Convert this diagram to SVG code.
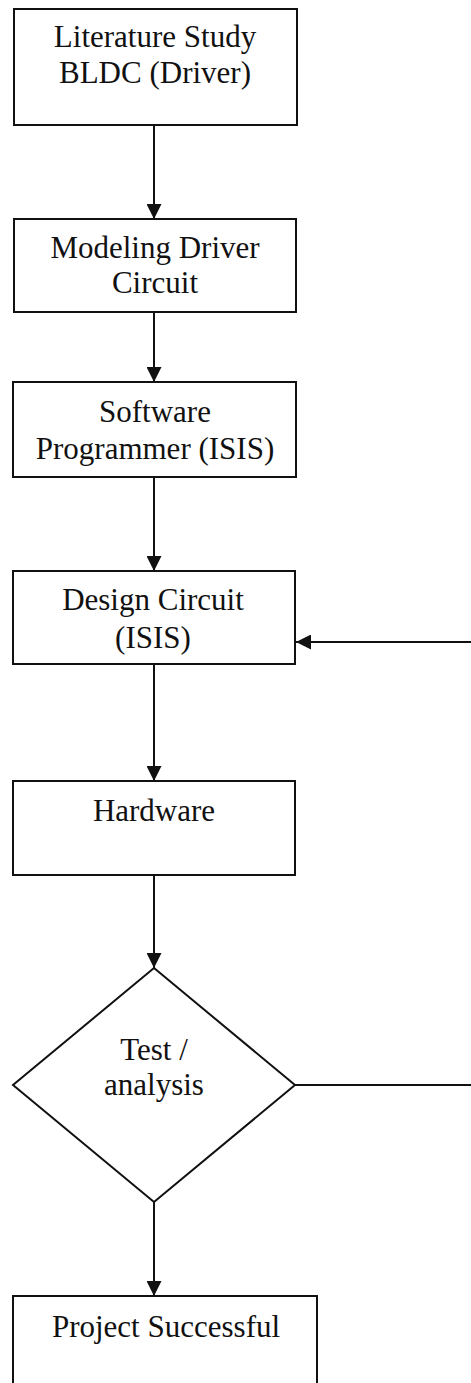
<svg xmlns="http://www.w3.org/2000/svg" width="471" height="1383" viewBox="0 0 471 1383">
  <style>
    .box { fill: #ffffff; stroke: #111111; stroke-width: 2; }
    .lbl { font-family: "Liberation Serif", "Times New Roman", serif; font-size: 31px; fill: #111111; text-anchor: middle; }
    .wire { fill: none; stroke: #111111; stroke-width: 2; }
  </style>
  <defs>
    <marker id="arrow" viewBox="0 0 15 15" refX="15" refY="7.5" markerWidth="15" markerHeight="15" markerUnits="userSpaceOnUse" orient="auto">
      <path d="M0,0 L15,7.5 L0,15 Z" fill="#111111"/>
    </marker>
  </defs>
  <rect width="471" height="1383" fill="#ffffff"/>

  <g id="connectors">
    <line class="wire" x1="154" y1="125" x2="154" y2="219" marker-end="url(#arrow)"/>
    <line class="wire" x1="154" y1="312" x2="154" y2="382" marker-end="url(#arrow)"/>
    <line class="wire" x1="154" y1="477" x2="154" y2="571" marker-end="url(#arrow)"/>
    <line class="wire" x1="154" y1="664" x2="154" y2="781" marker-end="url(#arrow)"/>
    <line class="wire" x1="154" y1="875" x2="154" y2="968" marker-end="url(#arrow)"/>
    <line class="wire" x1="154" y1="1202" x2="154" y2="1296" marker-end="url(#arrow)"/>
    <!-- loop back from the test decision to the circuit design step -->
    <line class="wire" x1="295" y1="1085" x2="471" y2="1085"/>
    <line class="wire" x1="471" y1="642" x2="296" y2="642" marker-end="url(#arrow)"/>
  </g>

  <g id="literature">
    <rect class="box" x="14" y="9" width="283" height="116"/>
    <text class="lbl" x="155" y="47">Literature Study</text>
    <text class="lbl" x="155" y="83">BLDC (Driver)</text>
  </g>

  <g id="modeling">
    <rect class="box" x="14" y="219" width="282" height="93"/>
    <text class="lbl" x="155" y="258">Modeling Driver</text>
    <text class="lbl" x="155" y="293">Circuit</text>
  </g>

  <g id="software">
    <rect class="box" x="13" y="382" width="283" height="95"/>
    <text class="lbl" x="155" y="422">Software</text>
    <text class="lbl" x="155" y="459">Programmer (ISIS)</text>
  </g>

  <g id="design">
    <rect class="box" x="13" y="571" width="282" height="93"/>
    <text class="lbl" x="153" y="610">Design Circuit</text>
    <text class="lbl" x="153" y="648">(ISIS)</text>
  </g>

  <g id="hardware">
    <rect class="box" x="13" y="781" width="282" height="94"/>
    <text class="lbl" x="154" y="821">Hardware</text>
  </g>

  <g id="test">
    <polygon class="box" points="154,968 295,1085 154,1202 13,1085"/>
    <text class="lbl" x="154" y="1060">Test /</text>
    <text class="lbl" x="154" y="1095">analysis</text>
  </g>

  <g id="success">
    <rect class="box" x="13" y="1296" width="304" height="110"/>
    <text class="lbl" x="166" y="1337">Project Successful</text>
  </g>
</svg>
